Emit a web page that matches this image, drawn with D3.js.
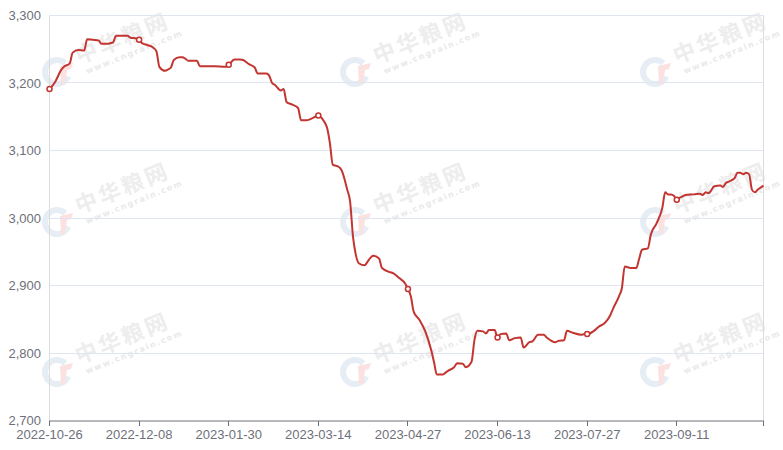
<!DOCTYPE html>
<html>
<head>
<meta charset="utf-8">
<script src="https://cdn.jsdelivr.net/npm/d3@7"></script>
<style>
html,body{margin:0;padding:0;background:#fff;}
svg{display:block;}
</style>
</head>
<body>
<svg id="chart" width="783" height="450"></svg>
<script>
// category index (working-day position) and price
const dayIndex = [0,2,4,5,7,8,10,12,13,15,17,18,20,21,22,23,27,28,30,31,32,34,36,37,38,40,41,42,43,45,46,47,48,51,52,57,61,62,64,66,67,69,71,72,75,76,77,78,80,81,82,84,86,87,89,91,93,95,96,97,98,100,101,103,104,105,106,107,109,110,111,112,114,115,117,119,121,123,124,125,126,128,130,132,133,134,136,137,138,140,141,143,144,146,147,148,150,151,152,154,155,156,158,159,161,163,164,166,167,169,171,172,175,176,178,179,181,184,185,186,189,190,192,194,195,197,198,199,201,203,204,205,207,208,210,212,213,214,215,216,217,218,219,220,223,225,226,227,228,230,232,233,234,235,237,238,239,240,241,242,243,244,245,246,247];
const price = [3191,3202,3219,3224,3229,3245,3249,3248,3265,3264,3263,3258,3258,3259,3260,3270,3270,3267,3266,3264,3259,3256,3252,3247,3224,3218,3220,3223,3234,3238,3238,3236,3233,3233,3225,3225,3224,3227,3235,3235,3234,3228,3223,3214,3214,3211,3200,3197,3189,3191,3172,3168,3163,3145,3145,3148,3152,3143,3134,3111,3079,3076,3071,3042,3024,2972,2945,2933,2930,2935,2941,2944,2940,2926,2921,2918,2911,2903,2895,2884,2861,2849,2832,2805,2787,2768,2768,2771,2774,2779,2785,2784,2779,2787,2819,2833,2832,2829,2834,2834,2823,2828,2829,2819,2822,2823,2808,2816,2817,2827,2827,2823,2816,2818,2819,2833,2830,2827,2828,2828,2835,2839,2844,2856,2866,2884,2896,2928,2926,2926,2940,2953,2955,2975,2992,3015,3038,3035,3035,3033,3027,3030,3032,3034,3035,3036,3034,3038,3037,3047,3048,3046,3052,3054,3059,3067,3067,3065,3067,3065,3042,3038,3042,3045,3048];
const lastIndex = 247;
const tickIndex = [0,31,62,93,124,155,186,217];
const tickLabels = ["2022-10-26","2022-12-08","2023-01-30","2023-03-14","2023-04-27","2023-06-13","2023-07-27","2023-09-11"];
const yTicks = [2700,2800,2900,3000,3100,3200,3300];
const wmText = "中华粮网";
const wmSub = "www.cngrain.com";

const svg = d3.select("#chart");
const x = d3.scaleLinear().domain([0, lastIndex]).range([49.5, 763.5]);
const y = d3.scaleLinear().domain([2700, 3300]).range([420.5, 15.5]);
const crisp = v => Math.floor(v) + 0.5;

// watermarks
const wm = svg.append("g").attr("class","watermarks");
const wmCols = [57, 355, 655], wmRows = [72, 222, 372];
wmRows.forEach(cy => wmCols.forEach(cx => {
  const g = wm.append("g").attr("transform", `translate(${cx},${cy})`);
  g.append("path")
    .attr("d", d3.arc()({innerRadius: 9, outerRadius: 15, startAngle: 1.95, endAngle: 2*Math.PI + 0.75}))
    .attr("fill", "#e6edf5");
  g.append("path")
    .attr("d", "M3,-6 L16,-9 L14,-3 L10,-2 L8,12 L4,13 Z")
    .attr("fill", "#fbe2e0");
  g.append("text")
    .attr("x", 22).attr("y", -8)
    .attr("transform", "rotate(-22,22,-8)")
    .attr("font-family", "'Noto Sans CJK SC', sans-serif")
    .attr("font-weight", "bold")
    .attr("font-size", 22)
    .attr("letter-spacing", 3)
    .attr("fill", "#ededed")
    .text(wmText);
  g.append("text")
    .attr("x", 30).attr("y", 2)
    .attr("transform", "rotate(-22,30,2)")
    .attr("font-family", "'DejaVu Sans', sans-serif")
    .attr("font-weight", "bold")
    .attr("font-size", 8)
    .attr("letter-spacing", 1.6)
    .attr("fill", "#e9e9e9")
    .text(wmSub);
}));

// gridlines
svg.append("g").selectAll("line").data(yTicks.filter(v => v !== 2700)).join("line")
  .attr("x1", 49.5).attr("x2", 763.5)
  .attr("y1", d => crisp(y(d))).attr("y2", d => crisp(y(d)))
  .attr("stroke", "#E0E6F1").attr("stroke-width", 1);

// side borders
svg.append("line").attr("x1", 49.5).attr("x2", 49.5).attr("y1", crisp(y(3300))).attr("y2", crisp(y(2700)))
  .attr("stroke", "#dcdcdc");
svg.append("line").attr("x1", 763.5).attr("x2", 763.5).attr("y1", crisp(y(3300))).attr("y2", crisp(y(2700)))
  .attr("stroke", "#dcdcdc");

// y labels
svg.append("g").selectAll("text").data(yTicks).join("text")
  .attr("x", 41).attr("y", d => y(d)).attr("dy", "0.35em")
  .attr("text-anchor", "end")
  .attr("font-family", "'Liberation Sans', Arial, sans-serif")
  .attr("font-size", 13)
  .attr("fill", "#6E7079")
  .text(d => d3.format(",")(d));

// x axis
const axisY = 421;
svg.append("line").attr("x1", 49).attr("x2", 764).attr("y1", axisY).attr("y2", axisY)
  .attr("stroke", "#6E7079").attr("stroke-width", 1);
svg.append("g").selectAll("line").data(tickIndex.concat([lastIndex])).join("line")
  .attr("x1", d => crisp(x(d))).attr("x2", d => crisp(x(d)))
  .attr("y1", axisY).attr("y2", axisY + 5)
  .attr("stroke", "#6E7079");
svg.append("g").selectAll("text").data(tickIndex).join("text")
  .attr("x", d => x(d)).attr("y", 438.5)
  .attr("text-anchor", "middle")
  .attr("font-family", "'Liberation Sans', Arial, sans-serif")
  .attr("font-size", 13)
  .attr("fill", "#6E7079")
  .text((d, i) => tickLabels[i]);

// line
const pts = dayIndex.map((d, i) => ({i: d, v: price[i]}));
const lineGen = d3.line().x(d => x(d.i)).y(d => y(d.v)).curve(d3.curveMonotoneX);
const lineColor = "#c23531";
svg.append("path").datum(pts)
  .attr("d", lineGen)
  .attr("fill", "none")
  .attr("stroke", lineColor)
  .attr("stroke-width", 2)
  .attr("stroke-linejoin", "round");

// markers at labelled categories
svg.append("g").selectAll("circle").data(pts.filter(p => tickIndex.includes(p.i))).join("circle")
  .attr("cx", d => x(d.i)).attr("cy", d => y(d.v))
  .attr("r", 2.5)
  .attr("fill", "#fff")
  .attr("stroke", lineColor)
  .attr("stroke-width", 1.5);
</script>
</body>
</html>
